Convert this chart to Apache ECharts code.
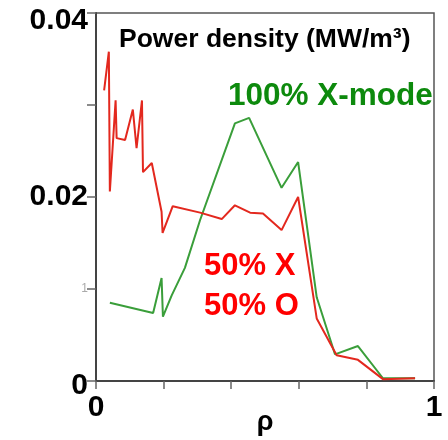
<!DOCTYPE html>
<html>
<head>
<meta charset="utf-8">
<script src="https://cdn.jsdelivr.net/npm/echarts@6/dist/echarts.min.js"></script>
<style>
  html, body { margin: 0; padding: 0; background: #fff; }
  #chart { width: 448px; height: 440px; }
</style>
</head>
<body>
<div id="chart"></div>
<script>
// 50% X / 50% O
const redX = [0.024, 0.038, 0.041, 0.058, 0.061, 0.086, 0.109, 0.120, 0.136, 0.139, 0.165, 0.194, 0.197, 0.227, 0.308, 0.372, 0.411, 0.456, 0.494, 0.549, 0.598, 0.653, 0.712, 0.775, 0.849, 0.944]
const redY = [0.0316, 0.0358, 0.0206, 0.0305, 0.0264, 0.0262, 0.0295, 0.0253, 0.0305, 0.0227, 0.0237, 0.0184, 0.0161, 0.0190, 0.0183, 0.0176, 0.0191, 0.0183, 0.0182, 0.0164, 0.0200, 0.0068, 0.0028, 0.0023, 0.0002, 0.0003]
// 100% X-mode
const greenX = [0.041, 0.169, 0.194, 0.198, 0.224, 0.263, 0.308, 0.411, 0.453, 0.549, 0.598, 0.653, 0.707, 0.775, 0.849, 0.944]
const greenY = [0.0085, 0.0074, 0.0112, 0.0070, 0.0093, 0.0123, 0.0175, 0.0280, 0.0286, 0.0210, 0.0238, 0.0091, 0.0029, 0.0038, 0.0003, 0.0003]

// y tick labels; the top and bottom ones sit a little below their ticks
const yTickLabels = {0: '{sp10|}\n{big|0}', 0.01: '{small|1}', 0.02: '{big|0.02}', 0.04: '{sp16|}\n{big|0.04}'}
const xTickLabels = {0: '0', 1: '1'}

const pairs = (xs, ys) => xs.map((x, i) => [x, ys[i]])

const chart = echarts.init(document.getElementById('chart'))
const font = 'Liberation Sans, Arial, sans-serif'

chart.setOption({
    animation: false,
    grid: {
        left: 96, right: 14, top: 13, bottom: 59, show: true, borderColor: '#555', borderWidth: 1.5,
        containLabel: false, outerBoundsMode: 'none'
    },
    xAxis: {
        type: 'value', min: 0, max: 1, interval: 0.2,
        axisLine: {lineStyle: {color: '#444', width: 2}},
        axisTick: {show: true, length: 8, lineStyle: {color: '#666', width: 1.5}},
        splitLine: {show: false},
        axisLabel: {
            formatter: v => xTickLabels[Math.round(v * 10) / 10] || '',
            fontFamily: font, fontWeight: 'bold', fontSize: 30, color: '#000', margin: 12,
            showMinLabel: true, showMaxLabel: true
        },
        name: 'ρ', nameLocation: 'middle', nameGap: 28, nameMoveOverlap: false,
        nameTextStyle: {fontFamily: font, fontWeight: 'bold', fontSize: 27, color: '#000'}
    },
    yAxis: {
        type: 'value', min: 0, max: 0.04, interval: 0.01,
        axisLine: {show: true, lineStyle: {color: '#444', width: 2}},
        axisTick: {show: true, length: 9, lineStyle: {color: '#666', width: 1.5}},
        splitLine: {show: false},
        axisLabel: {
            formatter: v => yTickLabels[Math.round(v * 100) / 100] || '',
            margin: 8,
            rich: {
                sp16: {fontSize: 10, lineHeight: 16},
                sp10: {fontSize: 10, lineHeight: 10},
                big: {fontFamily: font, fontWeight: 'bold', fontSize: 30, lineHeight: 30, color: '#000'},
                small: {fontFamily: font, fontSize: 12, color: '#aaa'}
            }
        }
    },
    series: [
        {
            type: 'line', data: pairs(greenX, greenY), symbol: 'none',
            lineStyle: {color: '#3a9e3a', width: 2}
        },
        {
            type: 'line', data: pairs(redX, redY), symbol: 'none',
            lineStyle: {color: '#e3281e', width: 2}
        }
    ],
    graphic: [
        {type: 'text', left: 119, top: 26, style: {text: 'Power density (MW/m³)', fontFamily: font, fontWeight: 'bold', fontSize: 26.5, fill: '#000'}},
        {type: 'text', left: 228, top: 80, style: {text: '100% X-mode', fontFamily: font, fontWeight: 'bold', fontSize: 31.5, fill: '#0d8a0d'}},
        {type: 'text', left: 204, top: 251, style: {text: '50% X', fontFamily: font, fontWeight: 'bold', fontSize: 31, fill: '#ff0000'}},
        {type: 'text', left: 204, top: 291, style: {text: '50% O', fontFamily: font, fontWeight: 'bold', fontSize: 31, fill: '#ff0000'}}
    ]
})
</script>
</body>
</html>
